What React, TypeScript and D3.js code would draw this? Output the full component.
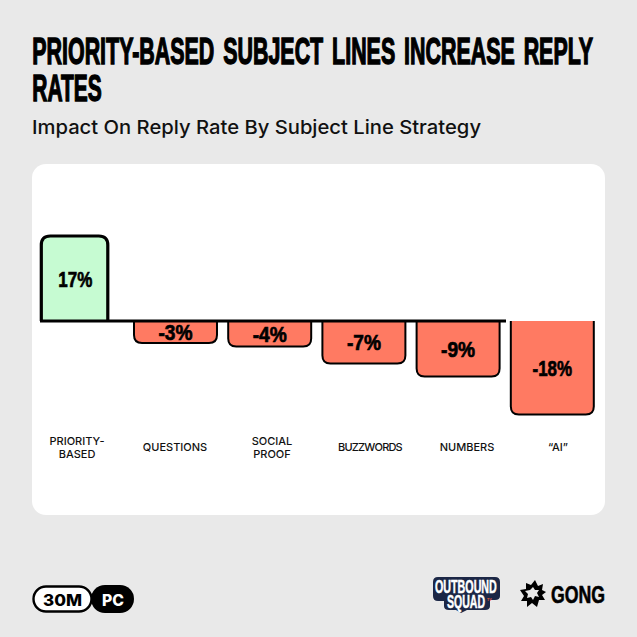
import React from 'react';
import * as d3 from 'd3';

const categories = ['PRIORITY-BASED', 'QUESTIONS', 'SOCIAL PROOF', 'BUZZWORDS', 'NUMBERS', '“AI”'];
const labelLines = [['PRIORITY-', 'BASED'], ['QUESTIONS'], ['SOCIAL', 'PROOF'], ['BUZZWORDS'], ['NUMBERS'], ['“AI”']];
// drawn bar heights, they are not quite the printed labels
const drawnValues = [17, -4.4, -5.1, -8.5, -11.1, -18.7];
const valueLabels = ['17%', '-3%', '-4%', '-7%', '-9%', '-18%'];

const titleLines = ['PRIORITY-BASED SUBJECT LINES INCREASE REPLY', 'RATES'];
const titleSqueeze = [0.595, 0.582];
const subtitle = 'Impact On Reply Rate By Subject Line Strategy';

const BG = '#e9e9e9';
const GREEN = '#c6fbd2';
const RED = '#ff7a62';
// no condensed face is installed, so the heavy headings are squeezed Liberation Sans Bold
const HEAVY = '"Liberation Sans", sans-serif';

const x = d3.scaleBand<string>()
  .domain(categories)
  .range([39.8, 593.8])
  .paddingInner(0.119);

const labelX = d3.scaleOrdinal<string, number>()
  .domain(categories)
  .range([77, 175, 272, 370, 467, 558]);

const y = d3.scaleLinear().domain([0, 17]).range([321, 236]);

// rect with only the far-from-baseline corners rounded
function barPath(x0: number, x1: number, yBase: number, yEnd: number, r: number) {
  const dir = yEnd < yBase ? 1 : -1;
  const p = d3.path();
  p.moveTo(x0, yBase);
  p.lineTo(x0, yEnd + dir * r);
  p.quadraticCurveTo(x0, yEnd, x0 + r, yEnd);
  p.lineTo(x1 - r, yEnd);
  p.quadraticCurveTo(x1, yEnd, x1, yEnd + dir * r);
  p.lineTo(x1, yBase);
  return p.toString();
}

const burstOuter = '535,580 538,586 543,584 542,590 546,592 542,595 545,600 539,600 537,607 532,603 527,607 527,601 521,601 524,596 520,590 526,589 526,583 531,585';
const burstInner = '533,587 535,590 539,590 537,593 539,597 535,596 533,600 531,597 527,598 528,594 525,591 530,590';

export default function App() {
  return (
    <svg width={637} height={637} style={{ position: 'absolute', left: 0, top: 0 }}>
      <rect width={637} height={637} fill={BG} />

      {titleLines.map((t, i) => (
        <text
          key={t}
          transform={`translate(32.3,${63.5 + i * 37}) scale(${titleSqueeze[i]},1)`}
          fontFamily={HEAVY}
          fontWeight={700}
          fontSize={36}
          stroke="#000"
          strokeWidth={1.4}
          strokeLinejoin="miter"
          wordSpacing={5}
        >
          {t}
        </text>
      ))}
      <text x={32} y={134} fontFamily="Inter, sans-serif" fontWeight={500} fontSize={19} textLength={449} lengthAdjust="spacingAndGlyphs" fill="#111">
        {subtitle}
      </text>

      <rect x={32} y={164} width={573} height={351} rx={14} fill="#fff" />

      {categories.map((c, i) => {
        const v = drawnValues[i];
        const x0 = x(c)!;
        const first = v > 0;
        const x1 = x0 + x.bandwidth() - (first ? 15 : 0);
        const yEnd = y(v);
        return (
          <path
            key={c}
            d={barPath(first ? x0 + 1.5 : x0, x1, y(0), yEnd, first ? 9 : 8)}
            fill={first ? GREEN : RED}
            stroke="#000"
            strokeWidth={first ? 3.2 : 2}
          />
        );
      })}
      <line x1={40} x2={506} y1={y(0)} y2={y(0)} stroke="#000" strokeWidth={2.8} />

      {categories.map((c, i) => {
        const v = drawnValues[i];
        const x0 = x(c)!;
        const cx = x0 + (v > 0 ? 35.5 : x.bandwidth() / 2);
        const cy = (y(0) + y(v)) / 2 + 1;
        const lbl = valueLabels[i];
        return (
          <text
            key={c + '-v'}
            x={cx}
            y={cy + 7}
            textAnchor="middle"
            fontFamily={HEAVY}
            fontWeight={700}
            fontSize={22}
            stroke="#000"
            strokeWidth={0.7}
            textLength={17.5 + 5.5 * lbl.length}
            lengthAdjust="spacingAndGlyphs"
          >
            {lbl}
          </text>
        );
      })}

      {categories.map((c, i) => {
        const lines = labelLines[i];
        const top = lines.length === 2 ? 445 : 451;
        return (
          <text
            key={c + '-l'}
            textAnchor="middle"
            fontFamily="Inter, sans-serif"
            fontWeight={500}
            fontSize={11}
            letterSpacing={c === 'BUZZWORDS' ? -0.8 : 0}
            fill="#111"
          >
            {lines.map((l, j) => (
              <tspan key={l} x={labelX(c)} y={top + j * 13}>{l}</tspan>
            ))}
          </text>
        );
      })}

      {/* duration badge */}
      <rect x={33.5} y={586.5} width={58} height={25} rx={12.5} fill="#fff" stroke="#000" strokeWidth={2.4} />
      <rect x={91} y={585} width={43} height={28} rx={14} fill="#000" />
      <text x={62.5} y={606} textAnchor="middle" fontFamily="Inter, sans-serif" fontWeight={800} fontSize={15.5} textLength={39} lengthAdjust="spacingAndGlyphs">30M</text>
      <text x={113} y={606} textAnchor="middle" fontFamily="Inter, sans-serif" fontWeight={800} fontSize={15.5} textLength={22} lengthAdjust="spacingAndGlyphs" fill="#fff">PC</text>

      {/* outbound squad logo */}
      <path d="M438 577 H495 Q500 577 500 582 V596 Q500 600 495 600 H490 V606 Q490 610 485 610 H467 L461 613 L456 610 H449 Q444 610 444 606 V601 H438 Q433 601 433 596 V582 Q433 577 438 577 Z" fill="#1c2746" />
      <g fontFamily={HEAVY} fontWeight={700} fill="#fff" stroke="#fff" strokeWidth={0.5} fontSize={18}>
        <text transform="translate(435,592.5) scale(0.595,1)">OUTBOUND</text>
        <text transform="translate(447,607.5) scale(0.585,1)">SQUAD</text>
      </g>
      <text x={487} y={601} fontFamily={HEAVY} fontSize={3.5} fontWeight={700} fill="#f0613d">TV</text>

      {/* gong logo */}
      <polygon points={burstOuter} fill="#000" />
      <polygon points={burstInner} fill={BG} />
      <text x={551} y={603} fontFamily={HEAVY} fontWeight={700} fontSize={24} textLength={54} lengthAdjust="spacingAndGlyphs" stroke="#000" strokeWidth={0.6}>GONG</text>
    </svg>
  );
}
